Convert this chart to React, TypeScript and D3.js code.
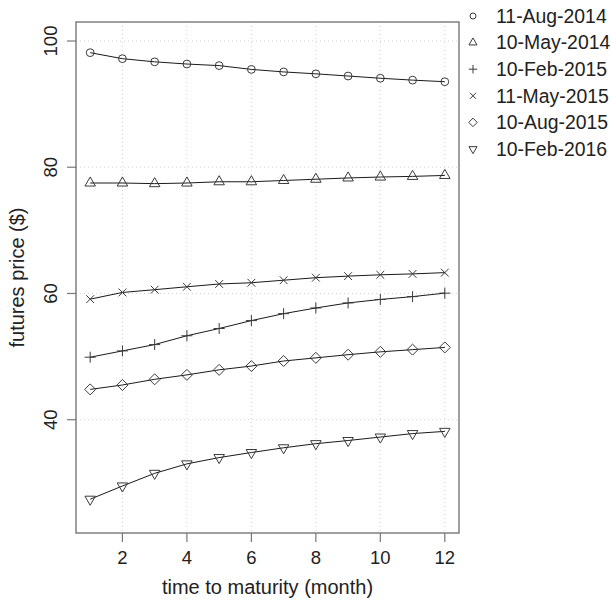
import React from "react";
import * as d3 from "d3";

const months = [1, 2, 3, 4, 5, 6, 7, 8, 9, 10, 11, 12];
const seriesNames = ["11-Aug-2014", "10-May-2014", "10-Feb-2015", "11-May-2015", "10-Aug-2015", "10-Feb-2016"];
const seriesShapes = ["circle", "triangle", "plus", "cross", "diamond", "triangleDown"];
const aug2014 = [98.15, 97.2, 96.7, 96.35, 96.1, 95.5, 95.1, 94.8, 94.45, 94.1, 93.8, 93.55];
const may2014 = [77.5, 77.5, 77.4, 77.5, 77.7, 77.7, 77.9, 78.1, 78.3, 78.45, 78.55, 78.7];
const feb2015 = [49.9, 50.9, 51.9, 53.3, 54.45, 55.7, 56.8, 57.7, 58.5, 59.05, 59.5, 60.05];
const may2015 = [59.1, 60.16, 60.6, 61.06, 61.5, 61.7, 62.1, 62.5, 62.75, 62.96, 63.1, 63.3];
const aug2015 = [44.8, 45.5, 46.4, 47.1, 47.9, 48.5, 49.3, 49.8, 50.3, 50.75, 51.1, 51.45];
const feb2016 = [27.4, 29.5, 31.5, 33.0, 34.0, 34.8, 35.55, 36.2, 36.7, 37.25, 37.8, 38.15];
const seriesValues = [aug2014, may2014, feb2015, may2015, aug2015, feb2016];
const xTicks = [2, 4, 6, 8, 10, 12];
const yTicks = [40, 60, 80, 100];
const xTitle = "time to maturity (month)";
const yTitle = "futures price ($)";

const W = 611, H = 601;
const box = { left: 76, right: 459, top: 22, bottom: 533 };
const FONT = "'Liberation Sans', Arial, Helvetica, sans-serif";

function symbolPath(shape: string, x: number, y: number, R: number): string {
  const s2 = Math.SQRT2 * R;
  switch (shape) {
    case "circle":
      return `M${x - R},${y}a${R},${R} 0 1,0 ${2 * R},0a${R},${R} 0 1,0 ${-2 * R},0Z`;
    case "triangle": {
      const xc = 1.5551 * R, r = xc * Math.sqrt(3) / 2, yc = xc / 2;
      return `M${x},${y - xc}L${x + r},${y + yc}L${x - r},${y + yc}Z`;
    }
    case "triangleDown": {
      const xc = 1.5551 * R, r = xc * Math.sqrt(3) / 2, yc = xc / 2;
      return `M${x},${y + xc}L${x + r},${y - yc}L${x - r},${y - yc}Z`;
    }
    case "plus":
      return `M${x - s2},${y}L${x + s2},${y}M${x},${y - s2}L${x},${y + s2}`;
    case "cross":
      return `M${x - R},${y - R}L${x + R},${y + R}M${x - R},${y + R}L${x + R},${y - R}`;
    case "diamond":
      return `M${x},${y - s2}L${x + s2},${y}L${x},${y + s2}L${x - s2},${y}Z`;
  }
  return "";
}

export default function App() {
  const x = d3.scaleLinear().domain([1 - 0.44, 12 + 0.44]).range([box.left, box.right]);
  const y = d3.scaleLinear().domain([40, 100]).range([419.7, 41]);
  const line = d3.line<number>().x((_, i) => x(months[i])).y((d) => y(d));
  const R = 3.9;

  return (
    <svg width={W} height={H} style={{ position: "absolute", left: 0, top: 0, background: "#fff" }}>
      <rect x={0} y={0} width={W} height={H} fill="#fff" />
      {xTicks.map((t) => (
        <line key={"gx" + t} x1={x(t)} x2={x(t)} y1={box.top} y2={box.bottom} stroke="#d3d3d3" strokeDasharray="1,3" />
      ))}
      {yTicks.map((t) => (
        <line key={"gy" + t} x1={box.left} x2={box.right} y1={y(t)} y2={y(t)} stroke="#d3d3d3" strokeDasharray="1,3" />
      ))}
      {seriesValues.map((vals, si) => (
        <g key={"s" + si}>
          <path d={line(vals) || ""} fill="none" stroke="#1a1a1a" strokeWidth={1} />
          {vals.map((v, i) => (
            <path key={i} d={symbolPath(seriesShapes[si], x(months[i]), y(v), R)} fill="none" stroke="#3a3a3a" strokeWidth={1} />
          ))}
        </g>
      ))}
      <rect x={box.left} y={box.top} width={box.right - box.left} height={box.bottom - box.top} fill="none" stroke="#777" strokeWidth={1.4} />
      {xTicks.map((t) => (
        <g key={"xt" + t}>
          <line x1={x(t)} x2={x(t)} y1={box.bottom} y2={box.bottom + 9} stroke="#777" strokeWidth={1.2} />
          <text x={x(t)} y={563.5} textAnchor="middle" fontFamily={FONT} fontSize={18.5} fill="#222">{t}</text>
        </g>
      ))}
      {yTicks.map((t) => (
        <g key={"yt" + t}>
          <line x1={box.left} x2={box.left - 9} y1={y(t)} y2={y(t)} stroke="#777" strokeWidth={1.2} />
          <text transform={`translate(57,${y(t)}) rotate(-90)`} textAnchor="middle" fontFamily={FONT} fontSize={18.5} fill="#222">{t}</text>
        </g>
      ))}
      <text x={(box.left + box.right) / 2} y={594} textAnchor="middle" fontFamily={FONT} fontSize={20} fill="#222">{xTitle}</text>
      <text transform={`translate(23.5,${(box.top + box.bottom) / 2}) rotate(-90)`} textAnchor="middle" fontFamily={FONT} fontSize={20} fill="#222">{yTitle}</text>
      {seriesNames.map((name, i) => {
        const cy = 16 + i * 26.6;
        return (
          <g key={"lg" + i}>
            <path d={symbolPath(seriesShapes[i], 473, cy, 3)} fill="none" stroke="#3a3a3a" strokeWidth={1} />
            <text x={496} y={cy + 6.8} fontFamily={FONT} fontSize={19.4} fill="#222">{name}</text>
          </g>
        );
      })}
    </svg>
  );
}
